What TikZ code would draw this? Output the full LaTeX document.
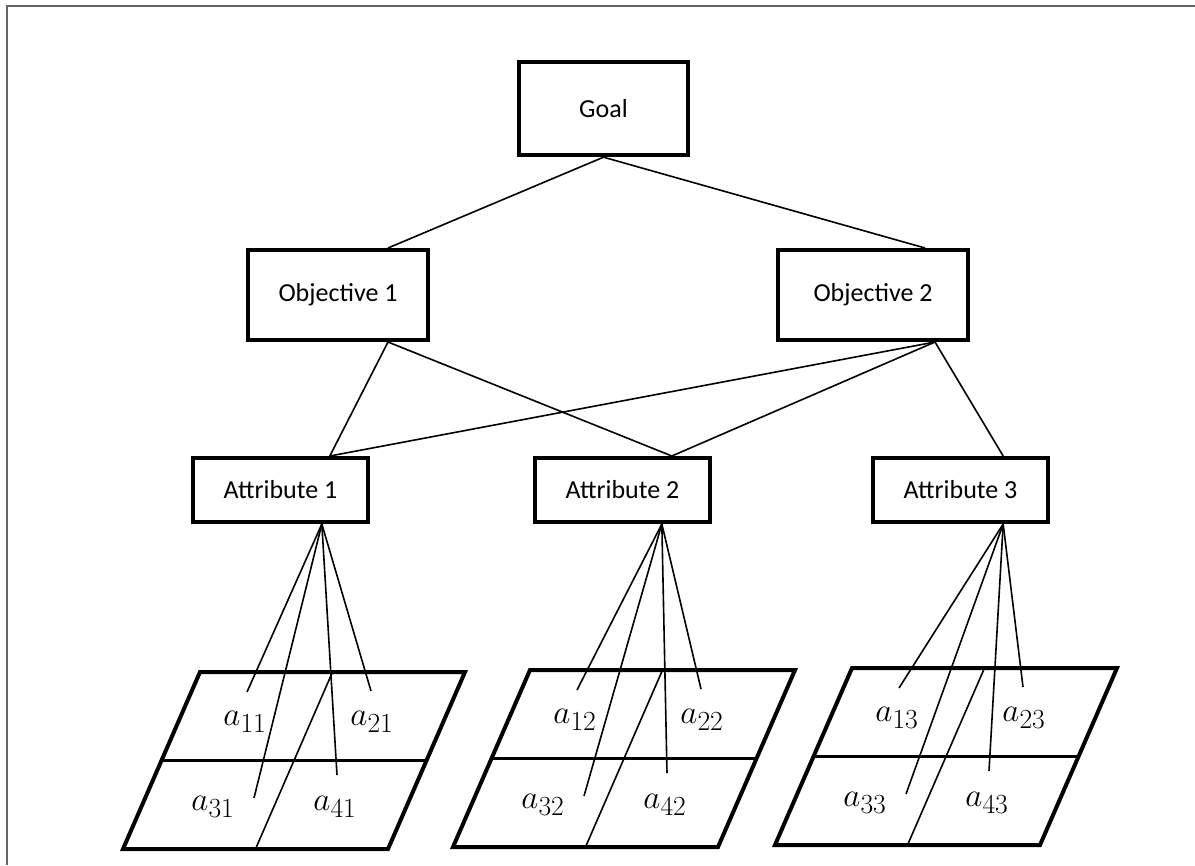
\documentclass[tikz,border=0pt]{standalone}
\usepackage{fontspec}
\setmainfont{Carlito}
\usepackage{amsmath}
\tikzset{
    level-box/.style = {draw, line width=3pt, rectangle, inner sep=0pt, minimum height=48pt, font=\fontsize{19.5}{23}\selectfont},
    link/.style = {line width=1.2pt},
    grid-edge/.style = {line width=3pt, line join=miter},
    grid-rule/.style = {line width=1.6pt},
    cell-label/.style = {inner sep=0pt, font=\fontsize{28}{32}\selectfont},
}

\begin{document}
\begin{tikzpicture}[x=0.75pt, y=-0.75pt]
\useasboundingbox (0,0) rectangle (1195,865);
\draw[black!60, line width=1.5pt] (7,865) -- (7,6) -- (1195,6);

\node[level-box, minimum width=127pt, minimum height=70pt] (goal) at (603.5,108.5) {Goal};
\node[level-box, minimum width=135pt, minimum height=67.5pt] (obj1) at (338,295) {Objective 1};
\node[level-box, minimum width=142.5pt, minimum height=67.5pt] (obj2) at (873,295) {Objective 2};
\node[level-box, minimum width=131pt] (attr1) at (280.5,490) {Attribute 1};
\node[level-box, minimum width=131pt] (attr2) at (622.5,490) {Attribute 2};
\node[level-box, minimum width=131pt] (attr3) at (960.5,490) {Attribute 3};

\draw[link] (goal.south) -- ([xshift=37.5pt]obj1.north);
\draw[link] (goal.south) -- ([xshift=39pt]obj2.north);
\draw[link] ([xshift=37.5pt]obj1.south) -- ([xshift=37pt]attr1.north);
\draw[link] ([xshift=37.5pt]obj1.south) -- ([xshift=37pt]attr2.north);
\draw[link] ([xshift=46.5pt]obj2.south) -- ([xshift=37pt]attr1.north);
\draw[link] ([xshift=46.5pt]obj2.south) -- ([xshift=37pt]attr2.north);
\draw[link] ([xshift=46.5pt]obj2.south) -- ([xshift=32pt]attr3.north);

% alternatives under each attribute
\foreach \gx/\gy/\k/\ap in {200/672/1/31pt, 530/670/2/29.5pt, 852/668/3/32pt} {
  \begin{scope}[shift={(\gx,\gy)}]
    \draw[grid-edge] (0,0) -- (265,0) -- (188,177) -- (-77,177) -- cycle;
    \draw[grid-rule] (-38.5,88.5) -- (226.5,88.5);
    \draw[link] (132.5,0) -- (55.5,177);
    \node[cell-label] (a1\k) at (45,50) {$a_{1\k}$};
    \node[cell-label] (a2\k) at (172,50) {$a_{2\k}$};
    \node[cell-label] (a3\k) at (13,135) {$a_{3\k}$};
    \node[cell-label] (a4\k) at (135,135) {$a_{4\k}$};
    \coordinate (e1\k) at (47,20);
    \coordinate (e2\k) at (171,19);
    \coordinate (e3\k) at (54,126);
    \coordinate (e4\k) at (137,103);
  \end{scope}
  \foreach \i in {1,...,4}
    \draw[link] ([xshift=\ap]attr\k.south) -- (e\i\k);
}
\end{tikzpicture}
\end{document}
